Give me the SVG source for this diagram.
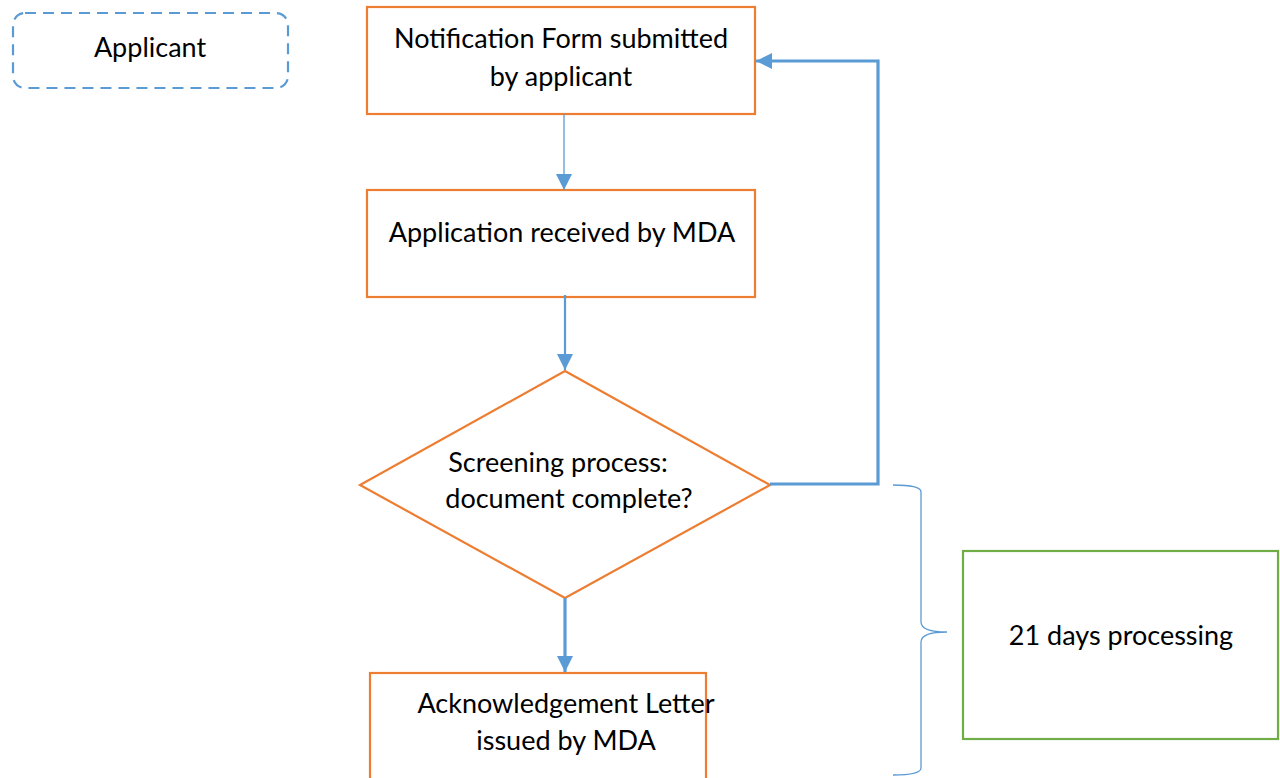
<svg xmlns="http://www.w3.org/2000/svg" width="1280" height="778" viewBox="0 0 1280 778">
<defs>
<style>
.box{fill:#fff;stroke:#ED7D31;stroke-width:2.2}
.txt{font-family:Lato,"Open Sans",sans-serif;font-size:27px;fill:#000;text-anchor:middle}
.con{fill:none;stroke:#5B9BD5}
</style>
<marker id="ah" viewBox="0 0 10 10" refX="10" refY="5" markerWidth="16" markerHeight="16" markerUnits="userSpaceOnUse" orient="auto">
<path d="M0,0 L10,5 L0,10 z" fill="#5B9BD5"/>
</marker>
</defs>
<rect width="1280" height="778" fill="#fff"/>
<g id="applicant">
<rect x="13" y="13" width="275" height="75" rx="12" fill="#fff" stroke="#5B9BD5" stroke-width="2.2" stroke-dasharray="11,7"/>
<text class="txt" x="150" y="57">Applicant</text>
</g>
<g id="notification">
<rect class="box" x="367" y="7" width="388" height="107"/>
<text class="txt" x="561" y="48">Notification Form submitted</text>
<text class="txt" x="561" y="86">by applicant</text>
</g>
<g id="received">
<rect class="box" x="367" y="190" width="388" height="107"/>
<text class="txt" x="562" y="242">Application received by MDA</text>
</g>
<g id="screening">
<polygon class="box" points="565,371 770,485 565,598 360,485"/>
<text class="txt" x="558" y="472">Screening process:</text>
<text class="txt" x="569" y="508">document complete?</text>
</g>
<g id="acknowledgement">
<rect class="box" x="370" y="673" width="336" height="120"/>
<text class="txt" x="566" y="713">Acknowledgement Letter</text>
<text class="txt" x="566" y="750">issued by MDA</text>
</g>
<g id="processing">
<rect x="963" y="551" width="315" height="188" fill="#fff" stroke="#70AD47" stroke-width="2.2"/>
<text class="txt" x="1121" y="645">21 days processing</text>
</g>
<g id="connectors">
<line class="con" x1="564" y1="114" x2="564" y2="190" stroke-width="1.3" marker-end="url(#ah)"/>
<line class="con" x1="565" y1="295" x2="565" y2="370" stroke-width="2.2" marker-end="url(#ah)"/>
<line class="con" x1="565" y1="598" x2="565" y2="672" stroke-width="3.2" marker-end="url(#ah)"/>
<polyline class="con" points="770,484 878,484 878,61 756,61" stroke-width="3.2" marker-end="url(#ah)"/>
<path class="con" stroke-width="1.3" d="M893,485 Q921,485 921,492 L921,622 Q921,632 947,632 Q921,632 921,642 L921,768 Q921,775 893,775"/>
</g>
</svg>
